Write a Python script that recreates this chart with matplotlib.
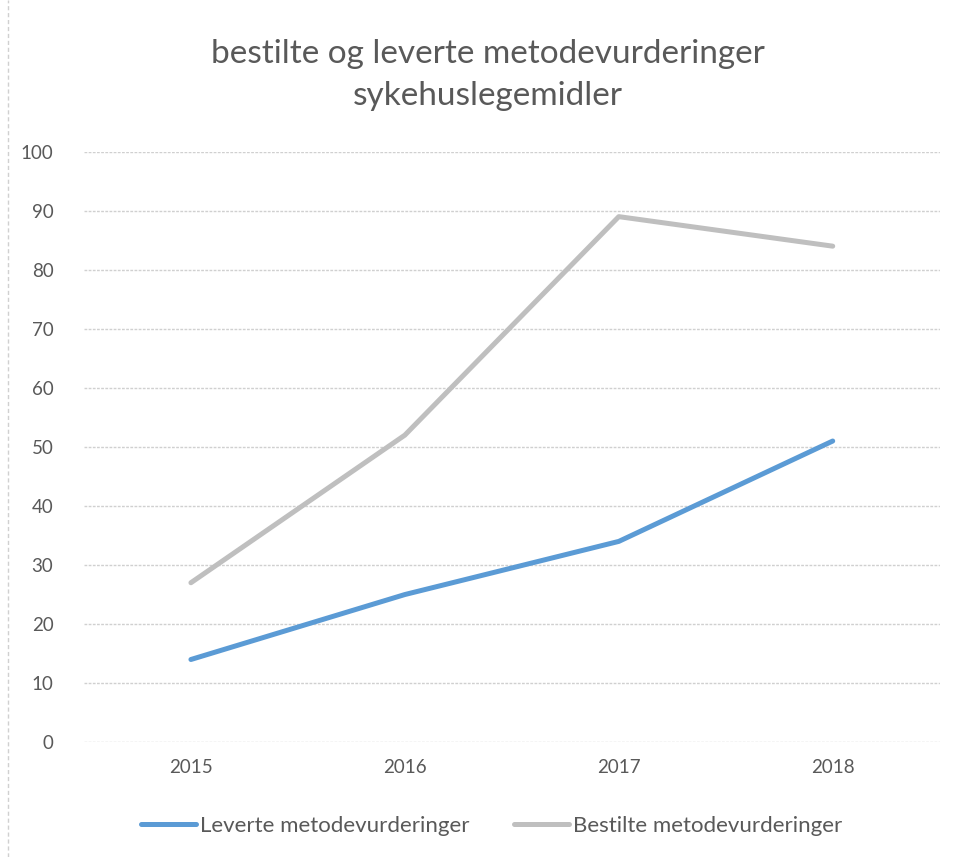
import matplotlib.pyplot as plt
from matplotlib.lines import Line2D

# data
years = ['2015', '2016', '2017', '2018']
leverte = [14, 25, 34, 51]
bestilte = [27, 52, 89, 84]

plt.rcParams['font.family'] = ['Lato', 'DejaVu Sans']

fig = plt.figure(figsize=(9.54, 8.57), dpi=100)
ax = fig.add_axes([0.088, 0.134, 0.897, 0.689])

x = range(len(years))
ax.plot(x, leverte, color='#5b9bd5', lw=3.6, solid_capstyle='round',
        label='Leverte metodevurderinger', zorder=3)
ax.plot(x, bestilte, color='#bfbfbf', lw=3.6, solid_capstyle='round',
        label='Bestilte metodevurderinger', zorder=3)

ax.set_xlim(-0.5, 3.5)
ax.set_ylim(0, 100)
ax.set_yticks(range(0, 101, 10))
ax.set_xticks(list(x))
ax.set_xticklabels(years)
ax.yaxis.grid(True, color='#d0d0d0', lw=1, ls=(0, (2, 1)))
ax.set_axisbelow(True)
for s in ax.spines.values():
    s.set_visible(False)
ax.tick_params(length=0, labelsize=13.5, colors='#595959', pad=12)
ax.tick_params(axis='y', pad=22)

fig.text(0.511, 0.912, 'bestilte og leverte metodevurderinger\nsykehuslegemidler',
         ha='center', va='center', fontsize=24, color='#595959', linespacing=1.5)

leg = fig.legend(loc='center', bbox_to_anchor=(0.515, 0.036), ncol=2, frameon=False,
                 fontsize=16, handlelength=2.5, columnspacing=2.0, handletextpad=0.15)
for t in leg.get_texts():
    t.set_color('#595959')

# faint left border of the chart area
fig.add_artist(Line2D([0.008, 0.008], [0.0, 1.0], color='#d0d0d0', lw=1,
                      ls=(0, (3, 2)), transform=fig.transFigure))

fig.savefig('out.png', dpi=100)
